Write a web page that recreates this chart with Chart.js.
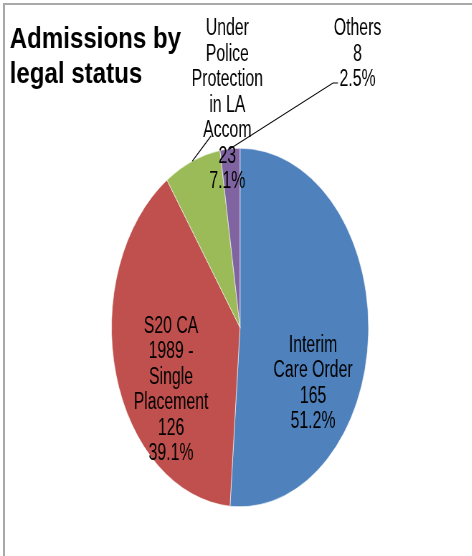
<!DOCTYPE html>
<html>
<head>
<meta charset="utf-8">
<script src="https://cdn.jsdelivr.net/npm/chart.js@4/dist/chart.umd.min.js"></script>
<style>
  html, body { margin: 0; padding: 0; background: #fff; }
  body { width: 472px; height: 556px; overflow: hidden; position: relative; }
  #frame {
    position: absolute; left: 3px; top: 3px; width: 520px; height: 600px;
    border-top: 2px solid #a9a9a9; border-left: 2px solid #a9a9a9;
  }
  #wrap {
    position: absolute; left: 0; top: 0;
    transform: scaleX(0.717); transform-origin: 0 0;
  }
</style>
</head>
<body>
<div id="frame"></div>
<div id="wrap"><canvas id="pie" width="658" height="556"></canvas></div>
<script>
// data
const categories = ['Interim Care Order', 'S20 CA 1989 - Single Placement', 'Under Police Protection in LA Accom', 'Others'];
const labelLines = [
    ['Interim', 'Care Order'],
    ['S20 CA', '1989 -', 'Single', 'Placement'],
    ['Under', 'Police', 'Protection', 'in LA', 'Accom'],
    ['Others']
];
const admissions = [165, 126, 23, 8];
const titleLines = ['Admissions by', 'legal status'];

const sliceColors = ['#4f81bd', '#c0504d', '#9bbb59', '#8064a2'];

// where each label block sits, relative to the pie centre (canvas px)
const labelPlace = [
    { dx: 101.8, dy: 24.2 },
    { dx: -96.2, dy: 5 },
    { dx: -17.7, dy: -292.5, leader: [[294.3, 136]] },
    { dx: 163.9, dy: -292.5, leader: [[464.4, 83], [471.4, 83]] }
];

const total = admissions.reduce((s, v) => s + v, 0);

const labelPlugin = {
    id: 'sliceLabels',
    afterDatasetsDraw(chart) {
        const ctx = chart.ctx;
        const arcs = chart.getDatasetMeta(0).data;
        ctx.save();

        // title
        ctx.fillStyle = '#000';
        ctx.font = 'bold 30px "Liberation Sans", Arial, sans-serif';
        ctx.textAlign = 'left';
        ctx.textBaseline = 'alphabetic';
        titleLines.forEach((t, i) => {
            ctx.save();
            ctx.translate(13.5, 48 + i * 35);
            ctx.scale(1.12, 1);
            ctx.fillText(t, 0, 0);
            ctx.restore();
        });

        // leader lines
        ctx.strokeStyle = '#000';
        ctx.lineWidth = 1.2;
        arcs.forEach((arc, i) => {
            const p = labelPlace[i];
            if (!p.leader) return;
            const mid = (arc.startAngle + arc.endAngle) / 2;
            ctx.beginPath();
            ctx.moveTo(arc.x + Math.cos(mid) * arc.outerRadius, arc.y + Math.sin(mid) * arc.outerRadius);
            p.leader.forEach(pt => ctx.lineTo(pt[0], pt[1]));
            ctx.stroke();
        });

        // data labels
        ctx.font = '23px "Liberation Sans", Arial, sans-serif';
        ctx.textAlign = 'center';
        arcs.forEach((arc, i) => {
            const p = labelPlace[i];
            const lines = labelLines[i].concat([
                String(admissions[i]),
                (admissions[i] / total * 100).toFixed(1) + '%'
            ]);
            lines.forEach((t, j) => {
                ctx.save();
                ctx.translate(arc.x + p.dx, arc.y + p.dy + j * 25.5);
                ctx.scale(0.96, 1);
                ctx.fillText(t, 0, 0);
                ctx.restore();
            });
        });
        ctx.restore();
    }
};

new Chart(document.getElementById('pie'), {
    type: 'pie',
    data: {
        labels: categories,
        datasets: [{
            data: admissions,
            backgroundColor: sliceColors,
            borderColor: 'rgba(255,255,255,0.6)',
            borderWidth: 1
        }]
    },
    options: {
        responsive: false,
        animation: false,
        events: [],
        layout: { padding: { left: 155, right: 143.5, top: 147.5, bottom: 48.5 } },
        plugins: {
            legend: { display: false },
            tooltip: { enabled: false },
            title: { display: false }
        }
    },
    plugins: [labelPlugin]
});
</script>
</body>
</html>
